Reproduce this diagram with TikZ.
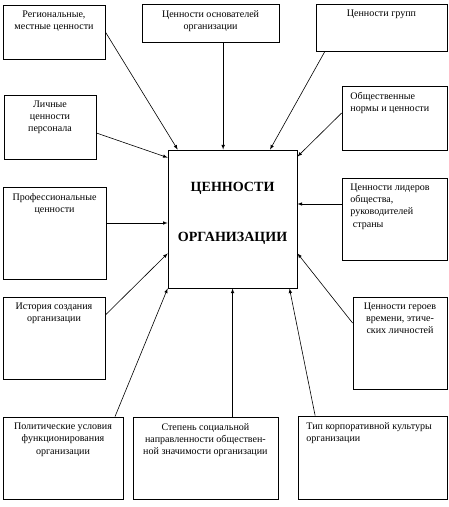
\documentclass[tikz,border=0pt]{standalone}
\usepackage{fontspec}
\setmainfont{Liberation Serif}
\usetikzlibrary{arrows}

\begin{document}
\begin{tikzpicture}[font=\fontsize{10}{12}\selectfont,
  valbox/.style={draw, line width=0.8pt, inner sep=0pt},
  valtxt/.style={anchor=north, align=center, inner sep=6.5pt},
  valtxtl/.style={anchor=north west, align=left, inner sep=6.5pt, xshift=2pt},
  valarr/.style={-latex, line width=0.6pt}]
  \useasboundingbox (0,0) rectangle (15.715,17.745);

  % outer boxes
  \node[valbox, minimum width=3.57cm, minimum height=1.89cm,
    label={[valtxt]north:Региональные,\\местные ценности}] (reg) at (1.89,16.625) {};
  \node[valbox, minimum width=4.795cm, minimum height=1.33cm,
    label={[valtxt]north:Ценности основателей\\организации}] (fnd) at (7.37,16.94) {};
  \node[valbox, minimum width=4.585cm, minimum height=1.645cm,
    label={[valtxt]north:Ценности групп}] (grp) at (13.35,16.78) {};
  \node[valbox, minimum width=3.22cm, minimum height=2.24cm,
    label={[valtxt]north:Личные\\ценности\\персонала}] (pers) at (1.75,13.30) {};
  \node[valbox, minimum width=3.675cm, minimum height=2.24cm,
    label={[valtxtl]north west:Общественные\\нормы и ценности}] (norm) at (13.81,13.615) {};
  \node[valbox, minimum width=3.605cm, minimum height=3.22cm,
    label={[valtxt]north:Профессиональные\\ценности}] (prof) at (1.91,9.59) {};
  \node[valbox, minimum width=3.675cm, minimum height=2.87cm,
    label={[valtxtl]north west:Ценности лидеров\\общества,\\руководителей\\\ страны}] (lead) at (13.81,10.08) {};
  \node[valbox, minimum width=3.57cm, minimum height=2.87cm,
    label={[valtxt]north:История создания\\организации}] (hist) at (1.89,5.915) {};
  \node[valbox, minimum width=3.29cm, minimum height=3.22cm,
    label={[valtxt]north:Ценности героев\\времени, этиче-\\ских личностей}] (hero) at (14.0,5.74) {};
  \node[valbox, minimum width=4.2cm, minimum height=2.87cm,
    label={[valtxt]north:Политические условия\\функционирования\\организации}] (pol) at (2.205,1.715) {};
  \node[valbox, minimum width=5.075cm, minimum height=2.87cm,
    label={[valtxt]north:Степень социальной\\направленности обществен-\\ной значимости организации}] (soc) at (7.19,1.715) {};
  \node[valbox, minimum width=5.215cm, minimum height=2.905cm,
    label={[valtxtl]north west:Тип корпоративной культуры\\организации}] (corp) at (13.04,1.73) {};

  % central box
  \node[valbox, minimum width=4.515cm, minimum height=4.83cm,
    label={[valtxt, font=\fontsize{14}{50}\selectfont\bfseries, inner sep=0pt, yshift=-32pt]north:ЦЕННОСТИ\\ОРГАНИЗАЦИИ}] (org) at (8.14,10.08) {};

  % arrows into the centre
  \draw[valarr] (reg.east) -- ([xshift=0.35cm]org.north west);
  \draw[valarr] ([xshift=-0.33cm]org.north |- fnd.south) -- ([xshift=-0.33cm]org.north);
  \draw[valarr] ([xshift=-1.98cm]grp.south) -- ([xshift=1.31cm]org.north);
  \draw[valarr] ([yshift=-0.21cm]pers.east) -- ([yshift=-0.28cm]org.north west);
  \draw[valarr] ([yshift=0.175cm]norm.west) -- ([yshift=-0.245cm]org.north east);
  \draw[valarr] ([yshift=0.35cm]prof.east) -- ([yshift=0.35cm]prof.east -| org.west);
  \draw[valarr] ([yshift=0.525cm]lead.west) -- ([yshift=0.525cm]lead.west -| org.east);
  \draw[valarr] ([yshift=0.805cm]hist.east) -- ([yshift=1.225cm]org.south west);
  \draw[valarr] ([yshift=0.7cm]hero.west) -- ([yshift=1.225cm]org.south east);
  \draw[valarr] ([xshift=1.82cm]pol.north) -- (org.south west);
  \draw[valarr] (org.south |- soc.north) -- (org.south);
  \draw[valarr] ([xshift=-2.01cm]corp.north) -- ([xshift=-0.28cm]org.south east);
\end{tikzpicture}
\end{document}
